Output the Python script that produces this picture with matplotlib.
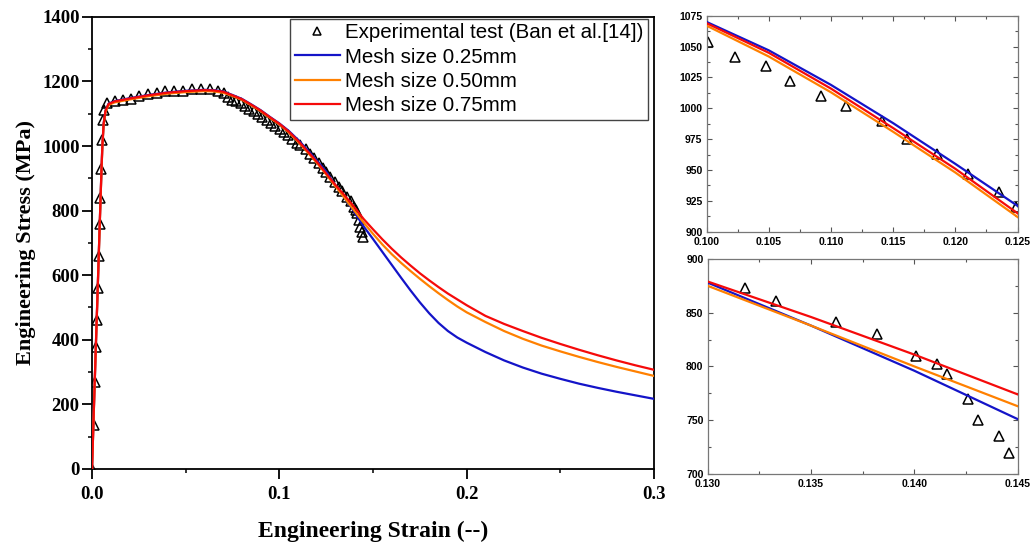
import matplotlib
matplotlib.use("Agg")
import matplotlib.pyplot as plt
from matplotlib.ticker import MultipleLocator, FormatStrFormatter

# ---------------- data ----------------
strain_exp = [0.0000, 0.0009, 0.0016, 0.0021, 0.0026, 0.0031, 0.0035, 0.0041, 0.0045,
              0.0050, 0.0055, 0.0059, 0.0063, 0.0078, 0.0123, 0.0164, 0.0206, 0.0253,
              0.0301, 0.0349, 0.0390, 0.0438, 0.0484, 0.0532, 0.0580, 0.0630, 0.0671,
              0.0702, 0.0725, 0.0748, 0.0771, 0.0794, 0.0817, 0.0840, 0.0863, 0.0886,
              0.0909, 0.0932, 0.0955, 0.0978, 0.1001, 0.1023, 0.1048, 0.1067, 0.1092,
              0.1112, 0.1141, 0.1161, 0.1185, 0.1210, 0.1235, 0.1249, 0.1273, 0.1296,
              0.1318, 0.1333, 0.1362, 0.1382, 0.1401, 0.1411, 0.1416, 0.1426, 0.1431,
              0.1441, 0.1446]
stress_exp = [0, 136, 270, 379, 461, 560, 660, 760, 840,
              930, 1020, 1080, 1113, 1134, 1140, 1143, 1145, 1155,
              1161, 1165, 1171, 1171, 1171, 1176, 1178, 1178, 1171,
              1163, 1153, 1144, 1138, 1132, 1124, 1116, 1108, 1099,
              1089, 1080, 1071, 1063, 1054, 1042, 1034, 1022, 1010,
              1002, 990, 975, 963, 947, 932, 920, 904, 888,
              873, 861, 841, 830, 810, 802, 793, 770, 750,
              735, 719]

strain_sim = [0, 0.001, 0.002, 0.003, 0.004, 0.005, 0.0055, 0.0062, 0.0072, 0.0088,
              0.012, 0.02, 0.03, 0.04, 0.05, 0.06, 0.065, 0.07, 0.075, 0.08,
              0.085, 0.09, 0.095, 0.100, 0.105, 0.110, 0.115, 0.120, 0.125, 0.130,
              0.135, 0.140, 0.145, 0.150, 0.155, 0.160, 0.165, 0.170, 0.175, 0.180,
              0.185, 0.190, 0.195, 0.200, 0.210, 0.220, 0.230, 0.240, 0.250, 0.260,
              0.270, 0.280, 0.290, 0.300]
stress_025 = [0, 190, 375, 555, 740, 920, 1000, 1070, 1110, 1131,
              1139, 1148, 1158, 1166, 1171, 1174, 1173, 1169, 1158, 1146,
              1129, 1111, 1090, 1070, 1047, 1019, 988, 955, 921, 878,
              838, 796, 751, 712, 672, 632, 592, 553, 516, 482,
              452, 427, 407, 391, 362, 336, 314, 295, 279, 264,
              251, 239, 228, 217]
stress_050 = [0, 188, 372, 551, 735, 915, 995, 1066, 1106, 1127,
              1135, 1144, 1154, 1162, 1167, 1170, 1169, 1165, 1155, 1143,
              1126, 1108, 1087, 1067, 1042, 1013, 981, 948, 912, 875,
              838, 800, 763, 728, 695, 665, 638, 613, 589, 566,
              544, 523, 503, 485, 455, 427, 403, 382, 364, 347,
              331, 316, 302, 288]
stress_075 = [0, 190, 375, 555, 740, 920, 1000, 1070, 1110, 1130,
              1138, 1147, 1157, 1165, 1170, 1173, 1172, 1168, 1157, 1145,
              1128, 1110, 1089, 1069, 1045, 1016, 984, 951, 915, 879,
              846, 811, 774, 742, 711, 682, 655, 630, 606, 584,
              563, 543, 525, 507, 474, 449, 427, 406, 387, 369,
              352, 336, 321, 307]

labels = ["Experimental test (Ban et al.[14])", "Mesh size 0.25mm",
          "Mesh size 0.50mm", "Mesh size 0.75mm"]
colors = ["#1414C8", "#FF8000", "#F50A0A"]

serif = ["Liberation Serif", "DejaVu Serif"]
sans = ["Liberation Sans", "DejaVu Sans"]

fig = plt.figure(figsize=(10.33, 5.44), dpi=100)


def draw(ax, ms, lw):
    ax.plot(strain_exp, stress_exp, linestyle="none", marker="^", markersize=ms,
            markerfacecolor="none", markeredgecolor="black", markeredgewidth=1.1,
            zorder=2, label=labels[0])
    for ys, c, lab in zip([stress_025, stress_050, stress_075], colors, labels[1:]):
        ax.plot(strain_sim, ys, color=c, lw=lw, zorder=3, label=lab)


# ---------------- main axes ----------------
ax = fig.add_axes([0.0891, 0.138, 0.544, 0.831])
draw(ax, 7, 1.6)
ax.set_xlim(0, 0.3)
ax.set_ylim(0, 1400)
ax.xaxis.set_major_locator(MultipleLocator(0.1))
ax.xaxis.set_minor_locator(MultipleLocator(0.05))
ax.yaxis.set_major_locator(MultipleLocator(200))
ax.yaxis.set_minor_locator(MultipleLocator(100))
ax.xaxis.set_major_formatter(FormatStrFormatter("%.1f"))
ax.tick_params(which="major", direction="out", length=7, width=1.3,
               top=False, right=False)
ax.tick_params(which="minor", direction="out", length=3, width=1.1,
               top=False, right=False)
ax.tick_params(axis="x", which="major", pad=5)
ax.tick_params(axis="y", which="major", pad=2)
for lab in ax.get_xticklabels() + ax.get_yticklabels():
    lab.set_fontfamily(serif)
    lab.set_fontweight("bold")
    lab.set_fontsize(13.5)
for s in ax.spines.values():
    s.set_linewidth(1.3)
ax.set_xlabel("Engineering Strain (--)", fontfamily=serif, fontweight="bold",
              fontsize=17)
ax.set_ylabel("Engineering Stress (MPa)", fontfamily=serif, fontweight="bold",
              fontsize=16)
ax.xaxis.set_label_coords(0.5, -0.115)
ax.yaxis.set_label_coords(-0.099, 0.5)

leg = ax.legend(loc="upper right", bbox_to_anchor=(0.989, 0.996), borderaxespad=0,
                prop={"family": sans, "size": 14.8}, handlelength=2.2,
                handletextpad=0.25, labelspacing=0.26, borderpad=0.22,
                fancybox=False, framealpha=1, markerscale=0.85)
leg.get_frame().set_edgecolor("#444444")
leg.get_frame().set_linewidth(1.0)

# ---------------- insets ----------------
def style_inset(a, xmaj, xmin_, ymaj, ymin_, xfmt, yfmt):
    a.xaxis.set_major_locator(MultipleLocator(xmaj))
    a.xaxis.set_minor_locator(MultipleLocator(xmin_))
    a.yaxis.set_major_locator(MultipleLocator(ymaj))
    a.yaxis.set_minor_locator(MultipleLocator(ymin_))
    a.xaxis.set_major_formatter(FormatStrFormatter(xfmt))
    a.yaxis.set_major_formatter(FormatStrFormatter(yfmt))
    a.tick_params(which="both", direction="in", top=True, right=True,
                  color="#555555", width=0.8)
    a.tick_params(axis="x", which="both", pad=4)
    a.tick_params(axis="y", which="both", pad=3)
    a.tick_params(which="major", length=3.5)
    a.tick_params(which="minor", length=2)
    for lab in a.get_xticklabels() + a.get_yticklabels():
        lab.set_fontfamily(sans)
        lab.set_fontweight("bold")
        lab.set_fontsize(7.5)
    for s in a.spines.values():
        s.set_linewidth(0.9)
        s.set_color("#777777")


ax1 = fig.add_axes([0.684, 0.574, 0.301, 0.397])
draw(ax1, 6.5, 1.6)
ax1.set_xlim(0.100, 0.125)
ax1.set_ylim(900, 1075)
style_inset(ax1, 0.005, 0.0025, 25, 12.5, "%.3f", "%d")

ax2 = fig.add_axes([0.685, 0.129, 0.300, 0.395])
draw(ax2, 6.5, 1.6)
ax2.set_xlim(0.130, 0.145)
ax2.set_ylim(700, 900)
style_inset(ax2, 0.005, 0.0025, 50, 25, "%.3f", "%d")

fig.savefig("out.png", dpi=100)
